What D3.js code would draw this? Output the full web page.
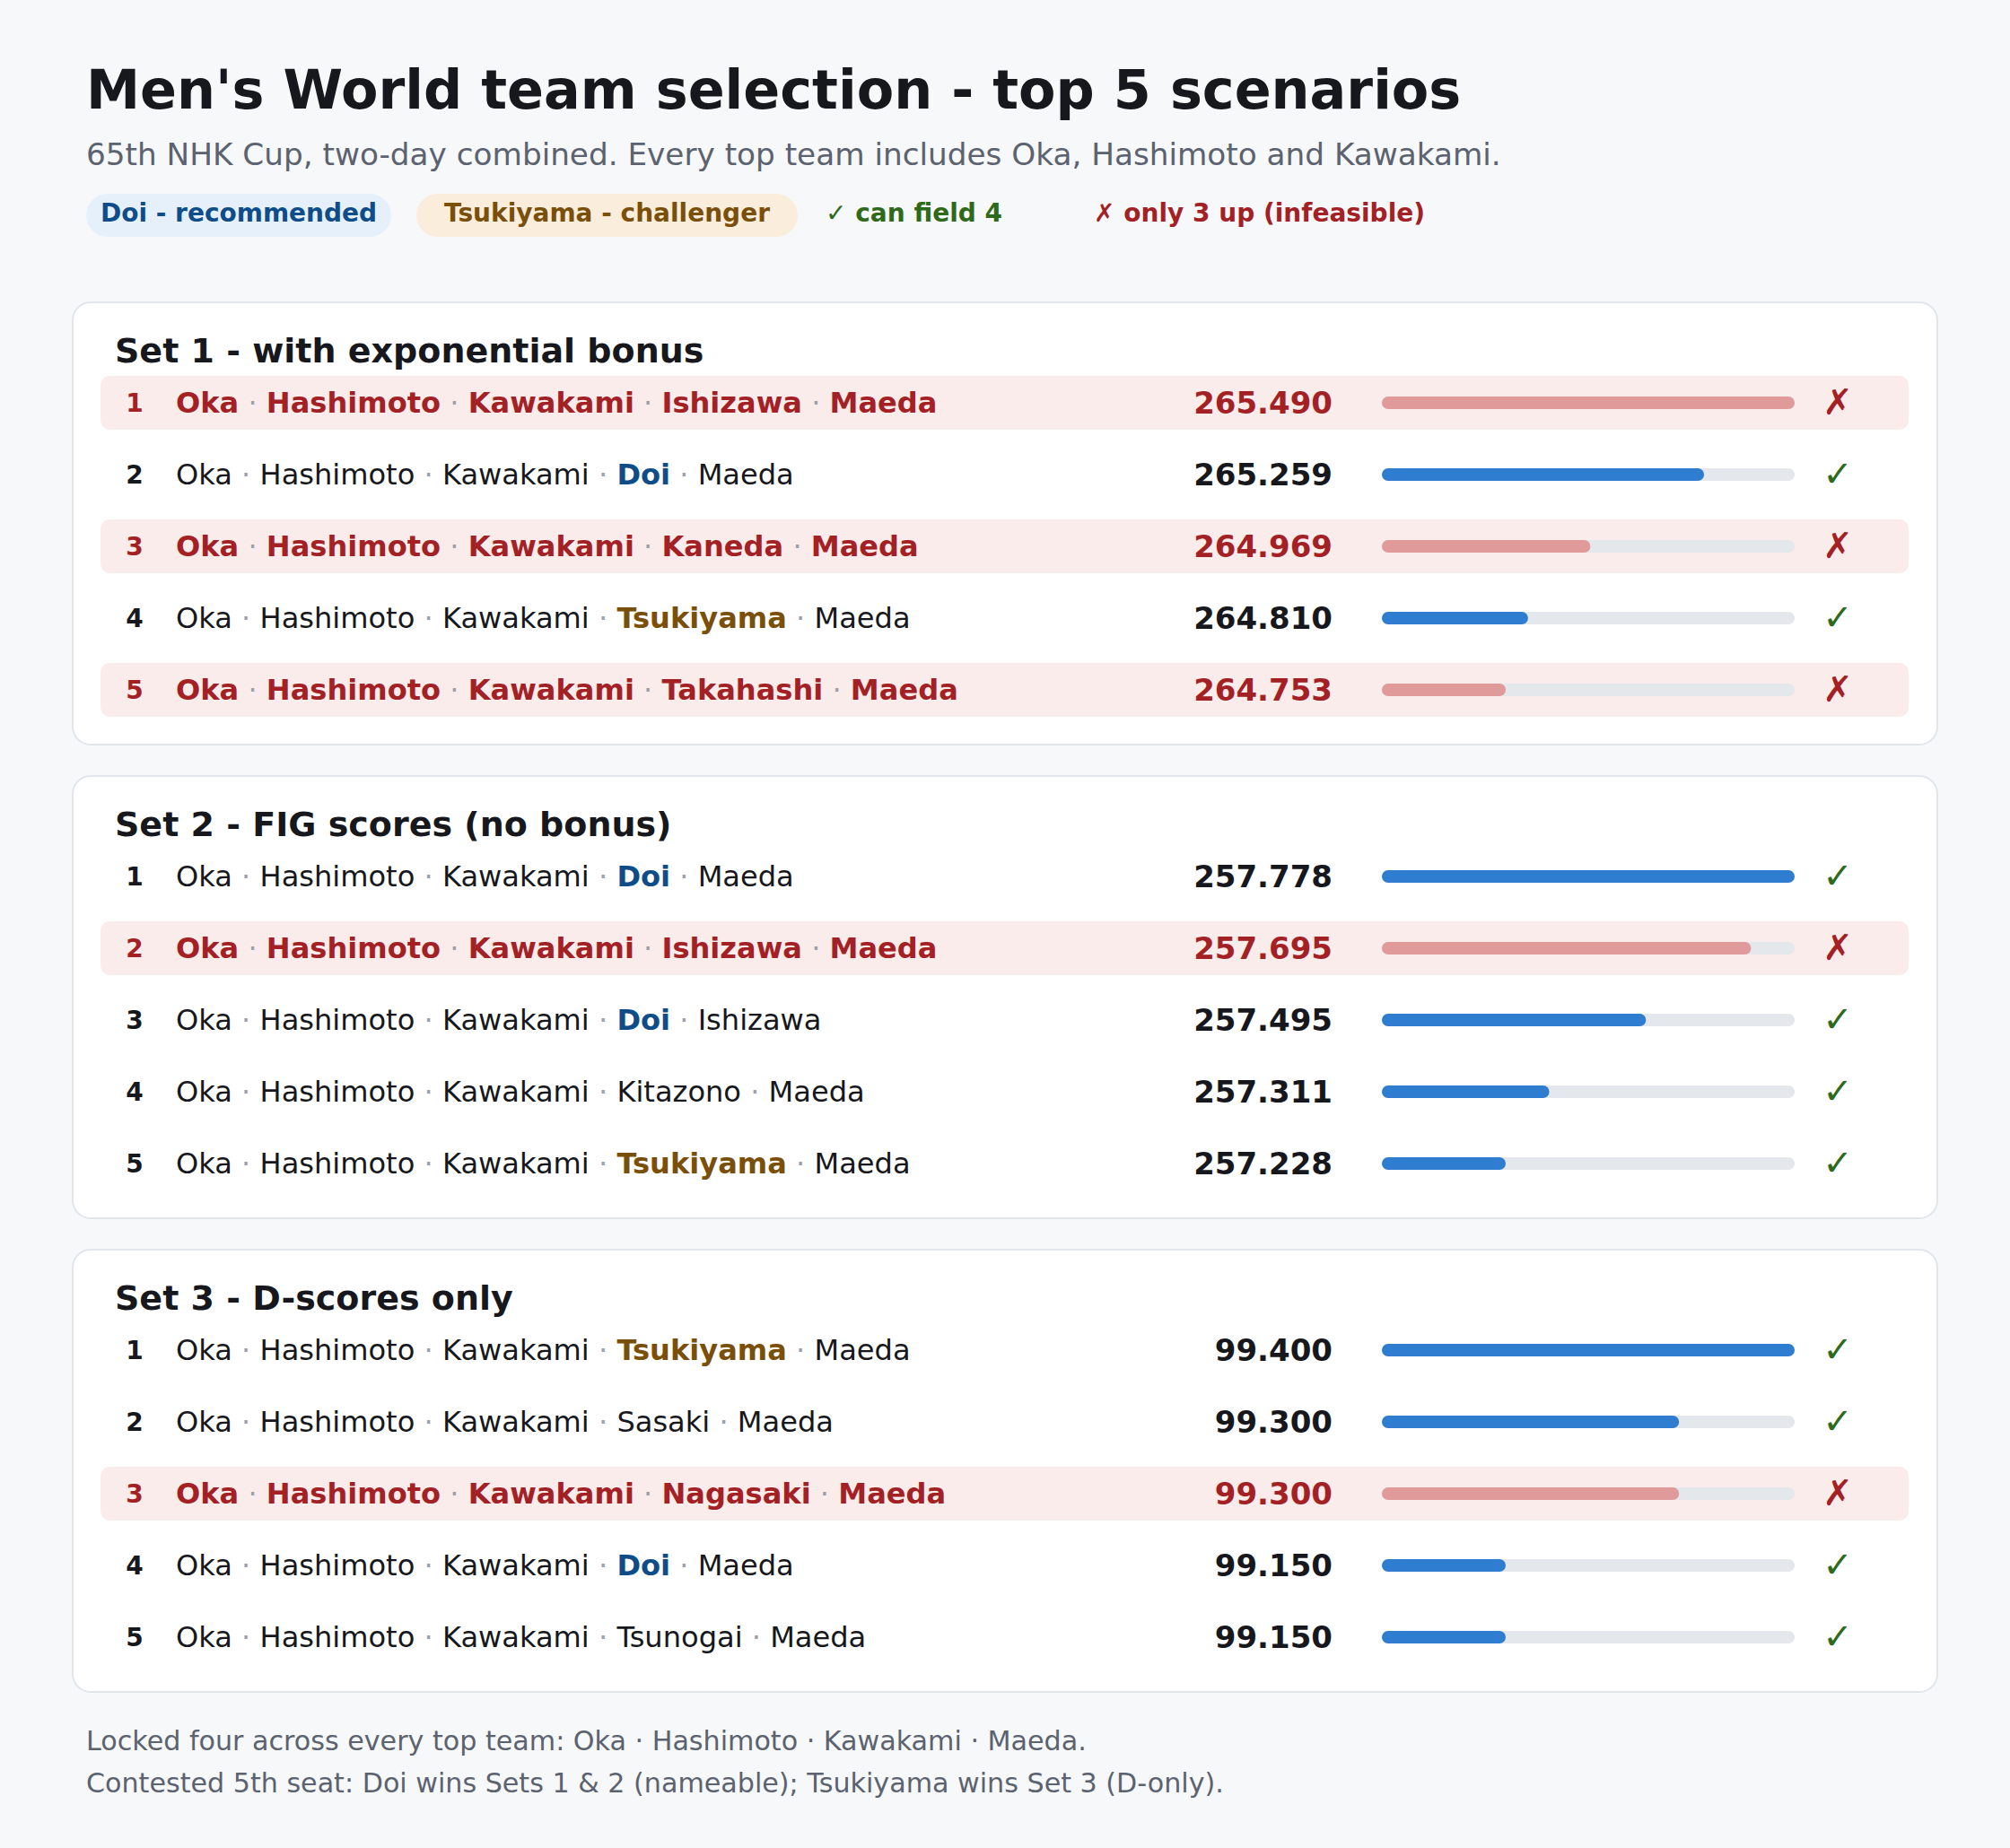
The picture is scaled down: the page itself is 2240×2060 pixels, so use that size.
<!DOCTYPE html>
<html>
<head>
<meta charset="utf-8">
<script src="https://cdn.jsdelivr.net/npm/d3@7"></script>
<style>
  html, body { margin: 0; padding: 0; background: #f7f8fa; }
  svg { display: block; font-family: "DejaVu Sans", sans-serif; }
</style>
</head>
<body>
<div id="chart"></div>
<script>
// data
const setTitles = [
  "Set 1 - with exponential bonus",
  "Set 2 - FIG scores (no bonus)",
  "Set 3 - D-scores only"
];
const set1Teams = [
  ["Oka", "Hashimoto", "Kawakami", "Ishizawa", "Maeda"],
  ["Oka", "Hashimoto", "Kawakami", "Doi", "Maeda"],
  ["Oka", "Hashimoto", "Kawakami", "Kaneda", "Maeda"],
  ["Oka", "Hashimoto", "Kawakami", "Tsukiyama", "Maeda"],
  ["Oka", "Hashimoto", "Kawakami", "Takahashi", "Maeda"]
];
const set1Scores = [265.490, 265.259, 264.969, 264.810, 264.753];
const set1Feasible = [false, true, false, true, false];

const set2Teams = [
  ["Oka", "Hashimoto", "Kawakami", "Doi", "Maeda"],
  ["Oka", "Hashimoto", "Kawakami", "Ishizawa", "Maeda"],
  ["Oka", "Hashimoto", "Kawakami", "Doi", "Ishizawa"],
  ["Oka", "Hashimoto", "Kawakami", "Kitazono", "Maeda"],
  ["Oka", "Hashimoto", "Kawakami", "Tsukiyama", "Maeda"]
];
const set2Scores = [257.778, 257.695, 257.495, 257.311, 257.228];
const set2Feasible = [true, false, true, true, true];

const set3Teams = [
  ["Oka", "Hashimoto", "Kawakami", "Tsukiyama", "Maeda"],
  ["Oka", "Hashimoto", "Kawakami", "Sasaki", "Maeda"],
  ["Oka", "Hashimoto", "Kawakami", "Nagasaki", "Maeda"],
  ["Oka", "Hashimoto", "Kawakami", "Doi", "Maeda"],
  ["Oka", "Hashimoto", "Kawakami", "Tsunogai", "Maeda"]
];
const set3Scores = [99.400, 99.300, 99.300, 99.150, 99.150];
const set3Feasible = [true, true, false, true, true];

const legendLabels = ["Doi - recommended", "Tsukiyama - challenger", "\u2713 can field 4", "\u2717 only 3 up (infeasible)"];
const footerLines = [
  "Locked four across every top team: Oka \u00b7 Hashimoto \u00b7 Kawakami \u00b7 Maeda.",
  "Contested 5th seat: Doi wins Sets 1 & 2 (nameable); Tsukiyama wins Set 3 (D-only)."
];

const sets = [
  { title: setTitles[0], teams: set1Teams, scores: set1Scores, feasible: set1Feasible },
  { title: setTitles[1], teams: set2Teams, scores: set2Scores, feasible: set2Feasible },
  { title: setTitles[2], teams: set3Teams, scores: set3Scores, feasible: set3Feasible }
];

// colours
const ink = "#16181d";
const grey = "#5b6270";
const red = "#a32124";
const blue = "#0f4c8a";
const brown = "#7a4f0a";
const green = "#2e6a1a";
const highlightNames = { "Doi": blue, "Tsukiyama": brown };

const width = 2240, height = 2060;
const svg = d3.select("#chart").append("svg")
  .attr("width", width).attr("height", height);

svg.append("rect").attr("width", width).attr("height", height).attr("fill", "#f7f8fa");

// header
svg.append("text").attr("x", 96).attr("y", 121)
  .attr("font-size", 60.4).attr("font-weight", "bold").attr("fill", ink)
  .text("Men's World team selection - top 5 scenarios");
svg.append("text").attr("x", 96).attr("y", 184)
  .attr("font-size", 34.25).attr("fill", grey)
  .text("65th NHK Cup, two-day combined. Every top team includes Oka, Hashimoto and Kawakami.");

// legend
const legendItems = [
  { x: 96, w: 340, bg: "#e6f0fb", color: blue },
  { x: 464, w: 425, bg: "#fbeddb", color: brown },
  { x: 920, w: 0, bg: null, color: green },
  { x: 1219, w: 0, bg: null, color: red }
];
legendItems.forEach((d, i) => {
  const g = svg.append("g");
  if (d.bg) {
    g.append("rect").attr("x", d.x).attr("y", 216).attr("width", d.w).attr("height", 48)
      .attr("rx", 24).attr("fill", d.bg);
    g.append("text").attr("x", d.x + d.w / 2).attr("y", 247).attr("text-anchor", "middle")
      .attr("font-size", 28).attr("font-weight", "bold").attr("fill", d.color)
      .text(legendLabels[i]);
  } else {
    g.append("text").attr("x", d.x).attr("y", 247)
      .attr("font-size", 28).attr("font-weight", "bold").attr("fill", d.color)
      .text(legendLabels[i]);
  }
});

// cards
const cardX = 81, cardW = 2078, cardH = 493, cardTop = 337, cardGap = 528;
const rowFirst = 112, rowPitch = 80;
const trackX = 1540, trackW = 460, trackH = 14;
const fmt = d3.format(".3f");

sets.forEach((set, si) => {
  const top = cardTop + si * cardGap;
  const card = svg.append("g").attr("transform", `translate(0,${top})`);

  card.append("rect").attr("x", cardX).attr("y", 0).attr("width", cardW).attr("height", cardH)
    .attr("rx", 20).attr("fill", "#fff").attr("stroke", "#e2e5ea").attr("stroke-width", 2);

  card.append("text").attr("x", 128).attr("y", 67)
    .attr("font-size", 38).attr("font-weight", "bold").attr("fill", ink)
    .text(set.title);

  const rows = set.teams.map((team, i) => ({
    rank: i + 1, team, score: set.scores[i], ok: set.feasible[i]
  }));

  const y = d3.scaleLinear().domain([0, rows.length - 1])
    .range([rowFirst, rowFirst + rowPitch * (rows.length - 1)]);
  const x = d3.scaleLinear().domain(d3.extent(set.scores))
    .range([trackX + trackW * 0.3, trackX + trackW]);

  const row = card.selectAll("g.row").data(rows).enter().append("g")
    .attr("class", "row")
    .attr("transform", (d, i) => `translate(0,${y(i)})`);

  row.filter(d => !d.ok).append("rect")
    .attr("x", 112).attr("y", -30).attr("width", 2015).attr("height", 60)
    .attr("rx", 10).attr("fill", "#fbecec");

  row.append("text").attr("x", 150).attr("y", 10).attr("text-anchor", "middle")
    .attr("font-size", 28).attr("font-weight", "bold")
    .attr("fill", d => d.ok ? ink : red)
    .text(d => d.rank);

  const names = row.append("text").attr("x", 196).attr("y", 11).attr("font-size", 32.1);
  names.each(function (d) {
    const t = d3.select(this);
    d.team.forEach((name, k) => {
      if (k > 0) t.append("tspan").attr("fill", "#9aa0aa").attr("font-weight", "normal").text(" \u00b7 ");
      const special = highlightNames[name];
      t.append("tspan")
        .attr("fill", !d.ok ? red : (special || ink))
        .attr("font-weight", (!d.ok || special) ? "bold" : "normal")
        .text(name);
    });
  });

  row.append("text").attr("x", 1485).attr("y", 12).attr("text-anchor", "end")
    .attr("font-size", 34).attr("font-weight", "bold")
    .attr("fill", d => d.ok ? ink : red)
    .text(d => fmt(d.score));

  row.append("rect").attr("x", trackX).attr("y", -trackH / 2)
    .attr("width", trackW).attr("height", trackH).attr("rx", trackH / 2)
    .attr("fill", "#e4e7ec");

  row.append("rect").attr("x", trackX).attr("y", -trackH / 2)
    .attr("width", d => x(d.score) - trackX).attr("height", trackH).attr("rx", trackH / 2)
    .attr("fill", d => d.ok ? "#2f7dd1" : "#e09a9a");

  row.append("text").attr("x", 2048).attr("y", 13).attr("text-anchor", "middle")
    .attr("font-size", 40).attr("font-weight", "bold")
    .attr("fill", d => d.ok ? green : red)
    .text(d => d.ok ? "\u2713" : "\u2717");
});

// footer
svg.selectAll("text.foot").data(footerLines).enter().append("text")
  .attr("class", "foot")
  .attr("x", 96).attr("y", (d, i) => 1951 + i * 47)
  .attr("font-size", 30.15).attr("fill", grey)
  .text(d => d);
</script>
</body>
</html>
